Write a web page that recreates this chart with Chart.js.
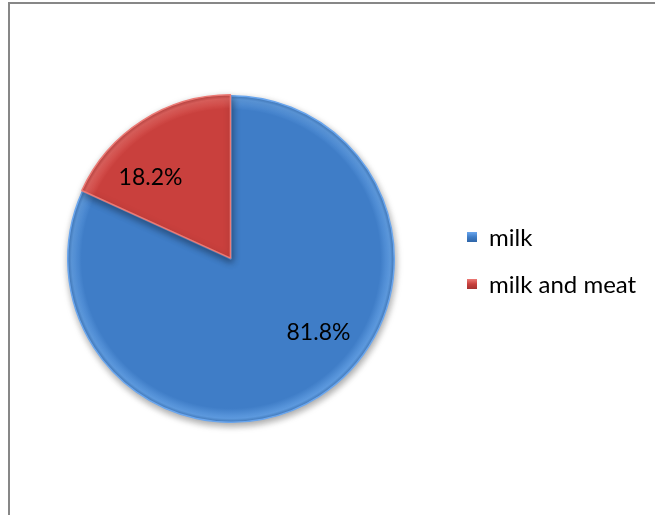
<!DOCTYPE html>
<html>
<head>
<meta charset="utf-8">
<script src="https://cdn.jsdelivr.net/npm/chart.js@4.4.1/dist/chart.umd.min.js"></script>
<style>
  html, body { margin: 0; padding: 0; background: #fff; overflow: hidden; }
  #frame {
    position: absolute; left: 8px; top: 2px; width: 700px; height: 560px;
    border-left: 2px solid #878787; border-top: 2px solid #878787;
    box-sizing: border-box;
  }
  #wrap { position: absolute; left: 0; top: 0; width: 655px; height: 515px; }
</style>
</head>
<body>
<div id="frame"></div>
<div id="wrap"><canvas id="c" width="655" height="515"></canvas></div>
<script>
// Share of farms by production type
const categories = ['milk', 'milk and meat'];
const shares = [81.8, 18.2];
const valueLabels = ['81.8%', '18.2%'];

const palette = [
  { light: '#5e9be0', base: '#3f7dc7', dark: '#2f66a8', edge: '#6aa6ee' },
  { light: '#e2625e', base: '#c9403d', dark: '#a53230', edge: '#ec7a75' }
];

const FONT = 'Lato, "Open Sans", sans-serif';

// Soft shadow under the pie
const shadowPlugin = {
  id: 'pieShadow',
  beforeDatasetsDraw(chart) {
    const ctx = chart.ctx;
    ctx.save();
    ctx.shadowColor = 'rgba(0,0,0,0.35)';
    ctx.shadowBlur = 7;
    ctx.shadowOffsetX = 1;
    ctx.shadowOffsetY = 3;
  },
  afterDatasetsDraw(chart) {
    chart.ctx.restore();
  }
};

// Percentage labels inside each slice (angle nudge and radius factor per slice)
const labelNudge = [-0.30, -0.21];
const labelRadius = [0.70, 0.70];
const sliceLabels = {
  id: 'sliceLabels',
  afterDatasetsDraw(chart) {
    const ctx = chart.ctx;
    const meta = chart.getDatasetMeta(0);
    ctx.save();
    ctx.shadowColor = 'transparent';
    ctx.font = '23px ' + FONT;
    ctx.fillStyle = '#000';
    ctx.textAlign = 'center';
    ctx.textBaseline = 'middle';
    meta.data.forEach((arc, i) => {
      const p = arc.getProps(['x', 'y', 'startAngle', 'endAngle', 'outerRadius'], true);
      const mid = (p.startAngle + p.endAngle) / 2 + labelNudge[i];
      const r = p.outerRadius * labelRadius[i];
      ctx.fillText(valueLabels[i], p.x + Math.cos(mid) * r, p.y + Math.sin(mid) * r);
    });
    ctx.restore();
  }
};

// Legend with small bevelled squares
const sideLegend = {
  id: 'sideLegend',
  afterDraw(chart) {
    const ctx = chart.ctx;
    const x = 467, y0 = 237, gap = 47, s = 10;
    ctx.save();
    ctx.font = '24px ' + FONT;
    ctx.textBaseline = 'middle';
    ctx.textAlign = 'left';
    chart.data.labels.forEach((lab, i) => {
      const y = y0 + i * gap;
      const c = palette[i];
      const g = ctx.createLinearGradient(0, y - s / 2, 0, y + s / 2);
      g.addColorStop(0, c.edge);
      g.addColorStop(0.5, c.base);
      g.addColorStop(1, c.dark);
      ctx.fillStyle = g;
      ctx.fillRect(x, y - s / 2, s, s);
      ctx.fillStyle = '#000';
      ctx.fillText(lab, x + 22, y + 1);
    });
    ctx.restore();
  }
};

function sliceFill(context) {
  const chart = context.chart;
  const c = palette[context.dataIndex];
  const area = chart.chartArea;
  if (!area) return c.base;
  const cx = (area.left + area.right) / 2, cy = (area.top + area.bottom) / 2;
  const r = Math.min(area.right - area.left, area.bottom - area.top) / 2;
  const g = chart.ctx.createRadialGradient(cx, cy, 0, cx, cy, r);
  g.addColorStop(0, c.base);
  g.addColorStop(0.9, c.base);
  g.addColorStop(0.96, c.light);
  g.addColorStop(1, c.dark);
  return g;
}

new Chart(document.getElementById('c'), {
  type: 'pie',
  data: {
    labels: categories,
    datasets: [{
      data: shares,
      backgroundColor: sliceFill,
      borderColor: palette.map(p => p.edge),
      borderWidth: 1.5,
      offset: [0, 4]
    }]
  },
  options: {
    responsive: false,
    animation: false,
    layout: { padding: { left: 65, right: 258, top: 93, bottom: 90 } },
    plugins: {
      legend: { display: false },
      tooltip: { enabled: false }
    }
  },
  plugins: [shadowPlugin, sliceLabels, sideLegend]
});
</script>
</body>
</html>
